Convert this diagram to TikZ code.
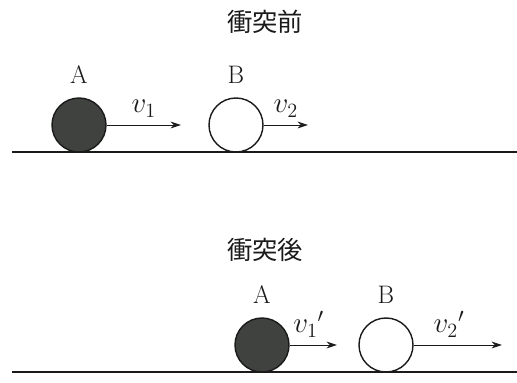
\documentclass[tikz,border=0pt]{standalone}
\usepackage{fontspec}
\newfontfamily\cjk{Noto Sans CJK JP}
\usepackage{xcolor}
\definecolor{ballGray}{HTML}{3F423F}
\definecolor{inkBlack}{HTML}{1A1A1A}
\usepackage{tikz}
\usetikzlibrary{
    arrows.meta,
    positioning
}
\tikzset{
    % Base style for all texts
    label base/.style={
        font=\fontsize{18}{20}\selectfont,
        text=inkBlack,
        inner sep=1pt,
    },
    % Velocity labels - a bit larger math
    speed/.style={
        label base,
        font=\fontsize{21}{24}\selectfont,
    },
    % Titles above each scene
    title/.style={
        label base,
        font=\cjk\fontsize{18}{20}\selectfont,
    },
    % Ball A - dark filled circle
    ball dark/.style={
        circle,
        minimum size=13.5mm,
        inner sep=0pt,
        draw=inkBlack,
        line width=1pt,
        fill=ballGray,
    },
    % Ball B - open circle
    ball open/.style={
        ball dark,
        fill=white,
    },
    % Velocity arrow
    arrow/.style={
        -{Stealth[length=2.6mm, width=1.7mm]},
        line width=0.6pt,
        draw=inkBlack,
    },
    % Floor line
    floor/.style={
        line width=1.3pt,
        draw=inkBlack,
    },
}

\begin{document}
\begin{tikzpicture}[x=0.25mm, y=0.25mm]
    \useasboundingbox (0,0) rectangle (517,383);

    % before collision
    \node (title_before) [title] at (265,361) {衝突前};
    \coordinate (floor1_l) at (12,231);
    \coordinate (floor1_r) at (517,231);
    \node (ballA1) [ball dark] at (79,258) {};
    \node (ballB1) [ball open] at (236,258) {};
    \node (labelA1) [label base, above=3mm of ballA1] {A};
    \node (labelB1) [label base, above=3mm of ballB1] {B};
    \coordinate (arrowA1_end) at (181,258);
    \coordinate (arrowB1_end) at (308,258);

    \draw [floor] (floor1_l) -- (floor1_r);
    \draw [arrow] (ballA1.east) -- (arrowA1_end)
        node [speed, midway, above=1.5mm] {$v_1$};
    \draw [arrow] (ballB1.east) -- (arrowB1_end)
        node [speed, midway, above=1.5mm] {$v_2$};

    % after collision
    \node (title_after) [title] at (265,133) {衝突後};
    \coordinate (floor2_l) at (12,11);
    \coordinate (floor2_r) at (517,11);
    \node (ballA2) [ball dark] at (262,38) {};
    \node (ballB2) [ball open] at (386,38) {};
    \node (labelA2) [label base, above=3mm of ballA2] {A};
    \node (labelB2) [label base, above=3mm of ballB2] {B};
    \coordinate (arrowA2_end) at (337,38);
    \coordinate (arrowB2_end) at (502,38);

    \draw [floor] (floor2_l) -- (floor2_r);
    \draw [arrow] (ballA2.east) -- (arrowA2_end)
        node [speed, pos=0.4, above=1.5mm] {$v_1{}'$};
    \draw [arrow] (ballB2.east) -- (arrowB2_end)
        node [speed, pos=0.4, above=1.5mm] {$v_2{}'$};
\end{tikzpicture}
\end{document}
